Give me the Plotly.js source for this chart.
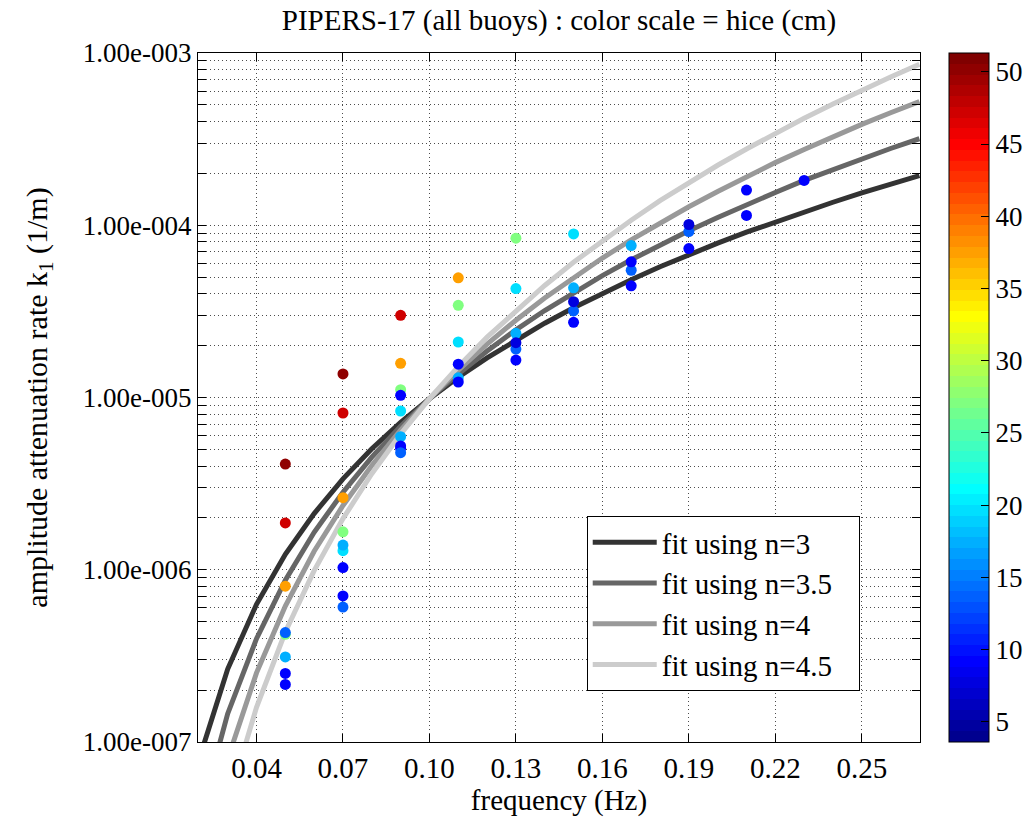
<!DOCTYPE html>
<html>
<head>
<meta charset="utf-8">
<script src="https://cdn.plot.ly/plotly-3.0.1.min.js"></script>
<style>html,body{margin:0;padding:0;background:#fff;}#chart{width:1029px;height:820px;}</style>
</head>
<body>
<div id="chart"></div>
<script>
// ---- data ----
const ptFreq = [
  0.05,0.05,0.05,0.05,0.05,0.05,0.05,0.05,
  0.07,0.07,0.07,0.07,0.07,0.07,0.07,0.07,0.07,
  0.09,0.09,0.09,0.09,0.09,0.09,0.09,0.09,0.09,
  0.11,0.11,0.11,0.11,0.11,0.11,
  0.13,0.13,0.13,0.13,0.13,0.13,
  0.15,0.15,0.15,0.15,0.15,
  0.17,0.17,0.17,0.17,
  0.19,0.19,0.19,
  0.21,0.21,
  0.23
];
const ptK1 = [
  4.11e-6,1.87e-6,8.03e-7,4.22e-7,4.32e-7,3.12e-7,2.50e-7,2.16e-7,
  1.37e-5,8.13e-6,2.62e-6,1.66e-6,1.29e-6,1.39e-6,1.03e-6,7.05e-7,6.07e-7,
  3.00e-5,1.58e-5,1.11e-5,1.03e-5,8.35e-6,5.92e-6,5.23e-6,5.07e-6,4.78e-6,
  4.95e-5,3.43e-5,2.10e-5,1.30e-5,1.56e-5,1.23e-5,
  8.41e-5,4.29e-5,2.36e-5,1.91e-5,2.08e-5,1.65e-5,
  8.91e-5,4.33e-5,3.18e-5,3.60e-5,2.73e-5,
  7.62e-5,5.48e-5,6.13e-5,4.45e-5,
  9.19e-5,1.01e-4,7.32e-5,
  1.60e-4,1.14e-4,
  1.82e-4
];
const ptHice = [
  50.2,47.2,37.5,27.1,13.6,17.4,9.2,9.2,
  50.2,47.2,37.5,27.1,19.6,17.4,9.2,9.2,13.6,
  47.2,37.5,27.1,9.2,19.6,17.4,9.2,9.2,13.6,
  37.5,27.1,19.6,17.4,9.2,9.2,
  27.1,19.6,17.4,13.6,7.4,9.2,
  19.6,17.4,13.6,7.4,9.2,
  17.4,13.6,9.2,9.2,
  13.6,7.4,9.2,
  9.2,9.2,
  9.2
];

const fitFreq = [0.02,0.03,0.04,0.05,0.06,0.07,0.08,0.09,0.10,0.11,0.12,0.13,0.14,
                 0.15,0.16,0.17,0.18,0.19,0.20,0.21,0.22,0.23,0.24,0.25,0.26,0.27];
const fitN3  = [7.87e-8,2.65e-7,6.30e-7,1.23e-6,2.12e-6,3.37e-6,5.04e-6,7.18e-6,9.84e-6,1.31e-5,1.70e-5,2.16e-5,2.70e-5,
                3.32e-5,4.03e-5,4.83e-5,5.74e-5,6.75e-5,7.87e-5,9.12e-5,1.047e-4,1.20e-4,1.36e-4,1.54e-4,1.73e-4,1.94e-4];
const fitN35 = [3.52e-8,1.46e-7,3.98e-7,8.69e-7,1.65e-6,2.82e-6,4.51e-6,6.81e-6,9.84e-6,1.37e-5,1.86e-5,2.47e-5,3.20e-5,
                4.07e-5,5.10e-5,6.30e-5,7.70e-5,9.30e-5,1.11e-4,1.32e-4,1.55e-4,1.82e-4,2.11e-4,2.43e-4,2.79e-4,3.18e-4];
const fitN4  = [1.57e-8,7.97e-8,2.52e-7,6.15e-7,1.28e-6,2.36e-6,4.03e-6,6.46e-6,9.84e-6,1.44e-5,2.04e-5,2.81e-5,3.78e-5,
                4.98e-5,6.45e-5,8.22e-5,1.03e-4,1.28e-4,1.57e-4,1.91e-4,2.31e-4,2.75e-4,3.27e-4,3.85e-4,4.50e-4,5.23e-4];
const fitN45 = [7.05e-9,4.37e-8,1.59e-7,4.35e-7,9.88e-7,1.98e-6,3.61e-6,6.13e-6,9.84e-6,1.51e-5,2.24e-5,3.20e-5,4.47e-5,
                6.10e-5,8.16e-5,1.07e-4,1.39e-4,1.77e-4,2.23e-4,2.77e-4,3.42e-4,4.18e-4,5.06e-4,6.08e-4,7.25e-4,8.59e-4];
const fitNames = ['fit using n=3','fit using n=3.5\u00a0\u00a0\u00a0','fit using n=4','fit using n=4.5'];

const xTickVals = [0.04,0.07,0.10,0.13,0.16,0.19,0.22,0.25];
const xTickText = ['0.04','0.07','0.10','0.13','0.16','0.19','0.22','0.25'];
const yTickVals = [1e-7,1e-6,1e-5,1e-4,1e-3];
const yTickText = ['1.00e-007','1.00e-006','1.00e-005','1.00e-004','1.00e-003'];
const cbTickVals = [5,10,15,20,25,30,35,40,45,50];

// ---- styling helpers ----
function jetScale(n){
  const cl = v => Math.max(0, Math.min(1, v));
  const s = [];
  for (let i = 0; i < n; i++){
    const x = (i + 1) / n;
    const r = Math.round(255*cl(1.5 - Math.abs(4*x - 3)));
    const g = Math.round(255*cl(1.5 - Math.abs(4*x - 2)));
    const b = Math.round(255*cl(1.5 - Math.abs(4*x - 1)));
    const c = 'rgb(' + r + ',' + g + ',' + b + ')';
    s.push([i / n, c]);
    s.push([(i + 1) / n, c]);
  }
  return s;
}
const minorY = [];
for (let e = -7; e < -3; e++) for (let d = 2; d <= 9; d++) minorY.push(d * Math.pow(10, e));

const FONT = "'Liberation Serif', 'Times New Roman', serif";
const gridCol = 'rgba(0,0,0,0.7)';
const gridDash = '1px,3px';
const fitColors = ['#333333','#666666','#999999','#cccccc'];
const fitSeries = [fitN3, fitN35, fitN4, fitN45];

const traces = fitSeries.map((ys, i) => ({
  type: 'scatter', mode: 'lines', x: fitFreq, y: ys, name: fitNames[i],
  line: {color: fitColors[i], width: 5}, hoverinfo: 'skip'
}));
traces.push({
  type: 'scatter', mode: 'markers', x: ptFreq, y: ptK1, showlegend: false,
  marker: {
    size: 11, color: ptHice, cmin: 3.6, cmax: 51.3, colorscale: jetScale(64),
    line: {width: 0}, showscale: true,
    colorbar: {
      x: 1.0402, xanchor: 'left', xpad: 0, y: 0.5, yanchor: 'middle', ypad: 0,
      len: 1, lenmode: 'fraction', thickness: 40, thicknessmode: 'pixels',
      outlinecolor: 'black', outlinewidth: 1,
      tickmode: 'array', tickvals: cbTickVals, ticks: 'inside', ticklen: 8, tickcolor: 'black',
      tickfont: {family: FONT, size: 27, color: 'black'}
    }
  }
});

const layout = {
  width: 1029, height: 820,
  margin: {l: 198, r: 109, t: 53, b: 78, pad: 0, autoexpand: false},
  paper_bgcolor: 'white', plot_bgcolor: 'white',
  font: {family: FONT, color: 'black', size: 27},
  title: {text: 'PIPERS-17 (all buoys) : color scale = hice (cm)', font: {family: FONT, size: 29, color: 'black'},
          x: 0.5, xref: 'paper', xanchor: 'center', y: 1 - 20/820, yref: 'container', yanchor: 'middle'},
  showlegend: true,
  legend: {x: 0.5384, y: 0.328, xanchor: 'left', yanchor: 'top', bgcolor: 'white',
           bordercolor: 'black', borderwidth: 1, font: {family: FONT, size: 29, color: 'black'},
           itemwidth: 64, tracegroupgap: 0},
  xaxis: {
    type: 'linear', range: [0.0197, 0.2702], tickmode: 'array', tickvals: xTickVals, ticktext: xTickText,
    ticks: 'inside', ticklen: 8, tickcolor: 'black', showline: true, linecolor: 'black', linewidth: 1, mirror: 'ticks',
    showgrid: true, gridcolor: gridCol, griddash: gridDash, gridwidth: 1, zeroline: false,
    tickfont: {family: FONT, size: 29}, automargin: false,
    title: {text: 'frequency (Hz)', font: {family: FONT, size: 29}, standoff: 2}
  },
  yaxis: {
    type: 'log', range: [-7, -3], tickmode: 'array', tickvals: yTickVals, ticktext: yTickText,
    ticks: 'inside', ticklen: 8, tickcolor: 'black', showline: true, linecolor: 'black', linewidth: 1, mirror: 'ticks',
    showgrid: true, gridcolor: gridCol, griddash: gridDash, gridwidth: 1, zeroline: false,
    tickfont: {family: FONT, size: 27}, automargin: false,
    minor: {tickmode: 'array', tickvals: minorY, ticks: 'inside', ticklen: 8, tickcolor: 'black',
            showgrid: true, gridcolor: gridCol, griddash: gridDash, gridwidth: 1},
    title: {text: 'amplitude attenuation rate k<sub>1</sub> (1/m)', font: {family: FONT, size: 30}, standoff: 26}
  }
};

Plotly.newPlot('chart', traces, layout, {displayModeBar: false, staticPlot: true});
</script>
</body>
</html>
